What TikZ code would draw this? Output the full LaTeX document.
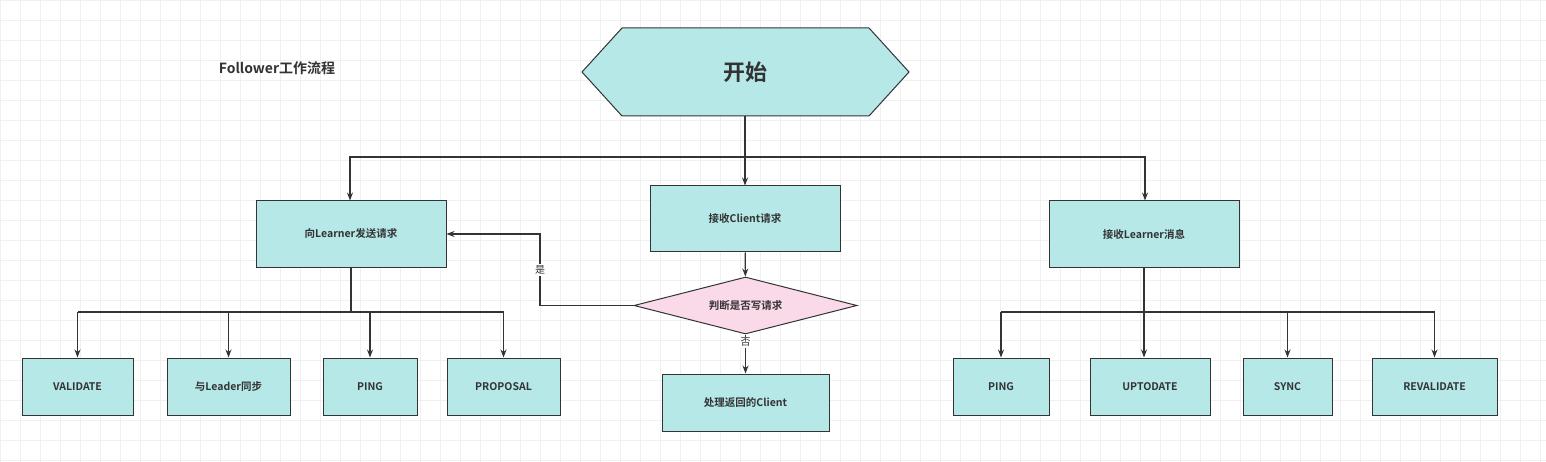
\documentclass[tikz,border=0pt]{standalone}
\usepackage{fontspec}
\setmainfont{Noto Sans CJK SC}[BoldFont={Noto Sans CJK SC Bold}]
\usetikzlibrary{shapes.geometric,arrows.meta}
\definecolor{boxfill}{HTML}{B6E8E8}
\definecolor{pinkfill}{HTML}{FAD9E8}
\definecolor{edge}{HTML}{333333}
\tikzset{
  box/.style={draw=edge,fill=boxfill,line width=1pt,minimum height=#1,inner sep=0pt,
    font=\fontsize{10.5}{12}\selectfont\bfseries,text=edge},
  box/.default=57pt,
  arr/.style={draw=edge,line width=1.1pt,-{Stealth[length=8pt,width=6pt]}},
  ln/.style={draw=edge,line width=1.1pt}
}
\begin{document}
\begin{tikzpicture}[x=1pt,y=-1pt]
\useasboundingbox (0,0) rectangle (1546,462);
\fill[white] (0,0) rectangle (1546,462);
\foreach \g in {0,20,...,1540} \draw[black!6,line width=0.5pt] (\g,0) -- (\g,462);
\foreach \g in {0,20,...,460} \draw[black!6,line width=0.5pt] (0,\g) -- (1546,\g);

\node[font=\fontsize{14}{16}\selectfont\bfseries,text=edge] (title) at (277,68) {Follower工作流程};

\node[draw=edge,fill=boxfill,line width=1pt,regular polygon,regular polygon sides=6,
  shape border rotate=30,minimum size=10pt,inner sep=0pt,
  font=\fontsize{22}{24}\selectfont\bfseries,text=edge,
  xscale=1,yscale=1] (start) at (745,72) {};
\fill[boxfill] (582,72) -- (622,28) -- (869,28) -- (909,72) -- (869,116) -- (622,116) -- cycle;
\draw[edge,line width=1pt] (582,72) -- (622,28) -- (869,28) -- (909,72) -- (869,116) -- (622,116) -- cycle;
\node[font=\fontsize{22}{24}\selectfont\bfseries,text=edge] (startlbl) at (745,72) {开始};
\coordinate (sb) at (745,116);

\node[box=66pt,minimum width=190pt] (send) at (351,234) {向Learner发送请求};
\node[box=66pt,minimum width=190pt] (client) at (745,219) {接收Client请求};
\node[box=66pt,minimum width=190pt] (recv) at (1144,234) {接收Learner消息};
\node[draw=edge,fill=pinkfill,line width=1pt,diamond,aspect=3.9,inner sep=0pt,
  minimum width=223pt,minimum height=57pt,
  font=\fontsize{10.5}{12}\selectfont\bfseries,text=edge] (judge) at (745.5,305.5) {判断是否写请求};
\node[box,minimum width=167pt] (proc) at (745.5,402.5) {处理返回的Client};

\node[box,minimum width=111pt] (validate) at (77.5,386.5) {VALIDATE};
\node[box,minimum width=123pt] (sync) at (228.5,386.5) {与Leader同步};
\node[box,minimum width=94pt] (ping) at (370,386.5) {PING};
\node[box,minimum width=113pt] (proposal) at (503.5,386.5) {PROPOSAL};

\node[box,minimum width=96pt] (ping2) at (1001,386.5) {PING};
\node[box,minimum width=120pt] (uptodate) at (1150,386.5) {UPTODATE};
\node[box,minimum width=89pt] (sync2) at (1287.5,386.5) {SYNC};
\node[box,minimum width=125pt] (reval) at (1434.5,386.5) {REVALIDATE};

% top tree
\draw[arr] (sb) -- (client.north);
\draw[arr] (sb) |- (350,157) -- (send.north -| 350,0);
\draw[arr] (sb) |- (1145,157) -- (recv.north -| 1145,0);

% client flow
\draw[arr] (client) -- (judge);
\draw[arr] (judge.west) -- (540,305.5) |- (send.east) node[pos=0.25,fill=white,inner sep=1.5pt,font=\fontsize{10}{12}\selectfont,text=edge] (yes) {是};
\draw[arr] (judge.south) -- (proc.north) node[pos=0.2,fill=white,inner sep=1pt,font=\fontsize{10}{12}\selectfont,text=edge] (no) {否};

% left bus
\coordinate (lb) at (351,312);
\draw[ln] (send.south) -- (lb);
\draw[ln] (validate.north |- lb) -- (proposal.north |- lb);
\foreach \n in {validate,sync,ping,proposal} \draw[arr] (\n.north |- lb) -- (\n.north);

% right bus
\coordinate (rb) at (1144,312);
\draw[ln] (recv.south) -- (rb);
\draw[ln] (ping2.north |- rb) -- (reval.north |- rb);
\draw[arr] (ping2.north |- rb) -- (ping2.north);
\draw[arr] (rb) -- (rb |- uptodate.north);
\draw[arr] (sync2.north |- rb) -- (sync2.north);
\draw[arr] (reval.north |- rb) -- (reval.north);
\end{tikzpicture}
\end{document}
